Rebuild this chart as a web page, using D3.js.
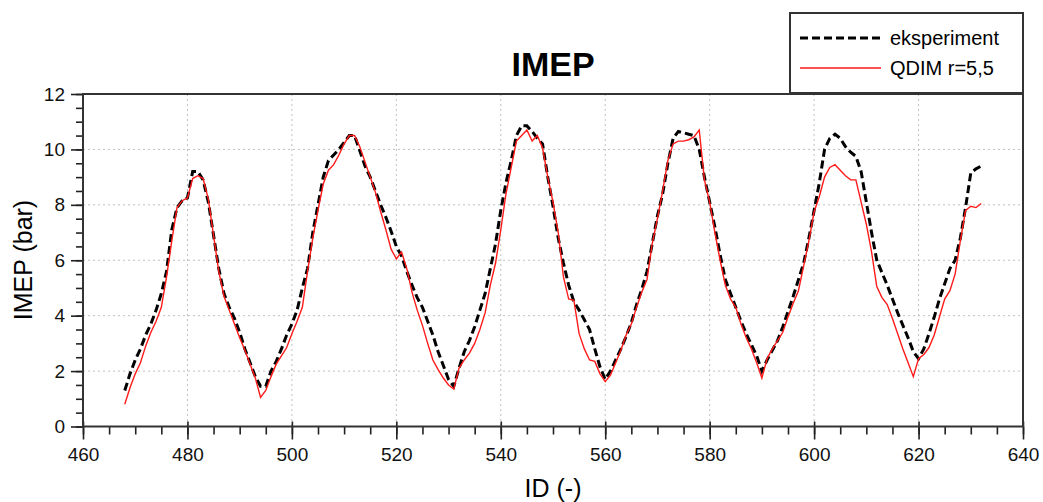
<!DOCTYPE html>
<html><head><meta charset="utf-8">
<script src="https://cdn.jsdelivr.net/npm/d3@7"></script>
<style>
body{margin:0;background:#fff;}
text{font-family:"Liberation Sans",Arial,sans-serif;}
</style></head>
<body><svg id="chart" width="1043" height="502"></svg>
<script>
const idStart = 468;
const eksperiment = [1.3,1.9,2.4,2.8,3.3,3.7,4.2,4.8,5.6,7.1,7.9,8.15,8.25,9.2,9.2,8.9,8.1,6.9,5.7,4.8,4.3,3.9,3.4,2.8,2.3,1.8,1.45,1.45,2.0,2.35,2.8,3.3,3.7,4.2,5.0,5.7,7.0,8.0,9.0,9.6,9.8,10.0,10.25,10.5,10.5,9.95,9.4,9.0,8.5,8.0,7.55,7.05,6.5,6.15,5.6,5.1,4.65,4.3,3.8,3.3,2.7,2.2,1.7,1.45,2.1,2.7,3.1,3.6,4.2,4.8,5.7,6.6,7.8,8.8,9.6,10.5,10.85,10.85,10.65,10.4,10.2,9.0,7.95,6.8,5.9,5.1,4.5,4.2,3.85,3.5,2.8,2.15,1.7,2.0,2.4,2.8,3.25,3.75,4.4,4.95,5.6,6.6,7.6,8.4,9.5,10.4,10.65,10.6,10.55,10.5,10.0,9.0,8.1,7.2,6.2,5.3,4.8,4.3,3.8,3.35,2.95,2.55,2.0,2.4,2.75,3.1,3.6,4.15,4.7,5.3,5.9,6.8,7.8,8.8,10.0,10.4,10.55,10.4,10.1,9.9,9.75,9.2,8.1,7.0,6.0,5.55,5.1,4.6,4.1,3.65,3.2,2.7,2.45,2.8,3.35,3.95,4.6,5.15,5.7,6.0,6.8,7.9,9.15,9.3,9.4];
const qdim = [0.8,1.4,1.9,2.3,2.9,3.4,3.8,4.3,5.4,6.7,7.9,8.15,8.25,8.95,9.05,8.95,8.2,6.9,5.6,4.7,4.2,3.7,3.2,2.75,2.25,1.75,1.05,1.3,1.8,2.25,2.55,2.85,3.35,3.8,4.3,5.6,6.8,7.8,8.75,9.25,9.45,9.8,10.2,10.5,10.5,10.1,9.55,9.0,8.45,7.75,7.1,6.4,6.05,6.3,5.7,4.85,4.2,3.65,3.0,2.4,2.05,1.75,1.5,1.35,2.1,2.4,2.65,3.0,3.5,4.1,5.1,5.9,7.1,8.4,9.35,10.3,10.5,10.7,10.3,10.5,10.05,9.0,8.1,7.0,5.4,4.6,4.55,3.35,2.8,2.4,2.35,1.9,1.62,1.85,2.3,2.75,3.3,3.7,4.3,4.85,5.3,6.6,7.5,8.5,9.6,10.2,10.3,10.3,10.35,10.45,10.7,8.9,8.1,7.0,6.0,5.1,4.6,4.3,3.7,3.2,2.8,2.3,1.75,2.45,2.8,3.1,3.4,3.95,4.45,4.9,5.8,6.7,7.75,8.3,9.0,9.35,9.45,9.25,9.05,8.9,8.9,8.1,7.3,6.3,5.05,4.65,4.4,3.9,3.35,2.8,2.3,1.8,2.45,2.6,2.85,3.3,3.95,4.6,4.9,5.5,6.7,7.8,7.95,7.9,8.05];
const xTicks = [460,480,500,520,540,560,580,600,620,640];
const yTicks = [0,2,4,6,8,10,12];
const seriesNames = ["eksperiment","QDIM r=5,5"];
const titleText = "IMEP";
const xLabel = "ID (-)";
const yLabel = "IMEP (bar)";

const svg = d3.select("#chart");
const m = {l:83, r:1023, t:94, b:426.5};
const x = d3.scaleLinear().domain([460,640]).range([m.l,m.r]);
const y = d3.scaleLinear().domain([0,12]).range([m.b,m.t]);

// grid
const g = svg.append("g");
g.selectAll(".gx").data(xTicks.slice(1,-1)).join("line")
  .attr("x1",d=>x(d)).attr("x2",d=>x(d)).attr("y1",m.t).attr("y2",m.b)
  .attr("stroke","#c0c0c0").attr("stroke-width",1).attr("stroke-dasharray","2,3");
g.selectAll(".gy").data(yTicks.slice(1,-1)).join("line")
  .attr("y1",d=>y(d)).attr("y2",d=>y(d)).attr("x1",m.l).attr("x2",m.r)
  .attr("stroke","#c0c0c0").attr("stroke-width",1).attr("stroke-dasharray","2,3");

// axes
const xMinor = d3.range(460,641,5);
const yMinor = d3.range(0,12.01,0.5);
const xAxMinor = svg.append("g").attr("transform",`translate(0,${m.b})`)
  .call(d3.axisBottom(x).tickValues(xMinor).tickSize(8).tickFormat(""));
const xAx = svg.append("g").attr("transform",`translate(0,${m.b})`)
  .call(d3.axisBottom(x).tickValues(xTicks).tickSize(13).tickPadding(8).tickFormat(d3.format("d")));
const yAxMinor = svg.append("g").attr("transform",`translate(${m.l},0)`)
  .call(d3.axisLeft(y).tickValues(yMinor).tickSize(7).tickFormat(""));
const yAx = svg.append("g").attr("transform",`translate(${m.l},0)`)
  .call(d3.axisLeft(y).tickValues(yTicks).tickSize(12).tickPadding(6).tickFormat(d3.format("d")));
[xAxMinor,xAx,yAxMinor,yAx].forEach(a=>{
  a.select(".domain").remove();
  a.selectAll(".tick line").attr("stroke","#222").attr("stroke-width",1.6);
  a.selectAll("text").attr("font-size",19).attr("fill","#111")
    .attr("font-family","'Liberation Sans',Arial,sans-serif");
});
xAx.selectAll(".tick line").attr("y1",-5);

// lines
const line = d3.line().x((d,i)=>x(idStart+i)).y(d=>y(d));
svg.append("path").datum(eksperiment).attr("d",line).attr("fill","none")
  .attr("stroke","#000").attr("stroke-width",3).attr("stroke-dasharray","8,4");
svg.append("path").datum(qdim).attr("d",line).attr("fill","none")
  .attr("stroke","#ff1a1a").attr("stroke-width",1.4);

// frame
svg.append("rect").attr("x",m.l).attr("y",m.t).attr("width",m.r-m.l).attr("height",m.b-m.t)
  .attr("fill","none").attr("stroke","#333").attr("stroke-width",2);

// title & labels
svg.append("text").attr("x",553).attr("y",76).attr("text-anchor","middle")
  .attr("font-size",34).attr("font-weight","bold").attr("fill","#000").text(titleText);
svg.append("text").attr("x",553).attr("y",497).attr("text-anchor","middle")
  .attr("font-size",25).attr("fill","#000").text(xLabel);
svg.append("text").attr("transform","translate(32,260) rotate(-90)").attr("text-anchor","middle")
  .attr("font-size",25).attr("fill","#000").text(yLabel);

// legend
const lg = svg.append("g");
lg.append("rect").attr("x",790).attr("y",13).attr("width",233).attr("height",80)
  .attr("fill","#fff").attr("stroke","#333").attr("stroke-width",2);
lg.append("line").attr("x1",800).attr("x2",882).attr("y1",38).attr("y2",38)
  .attr("stroke","#000").attr("stroke-width",3).attr("stroke-dasharray","8,4");
lg.append("line").attr("x1",800).attr("x2",881).attr("y1",68).attr("y2",68)
  .attr("stroke","#ff1a1a").attr("stroke-width",1.4);
lg.selectAll(".lt").data(seriesNames).join("text")
  .attr("x",890).attr("y",(d,i)=>45+i*30).attr("font-size",20).attr("fill","#000").text(d=>d);
</script></body></html>
